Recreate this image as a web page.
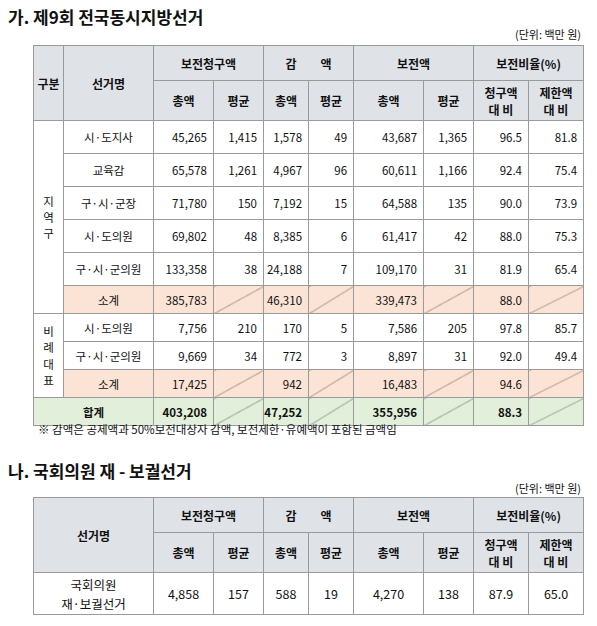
<!DOCTYPE html>
<html><head><meta charset="utf-8">
<script src="https://cdn.jsdelivr.net/npm/chart.js@4"></script>
<style>
body{margin:0;background:#fff;font-family:"Noto Sans CJK KR","Noto Sans",sans-serif;color:#111;width:597px;height:626px;overflow:hidden;position:relative}
h2{position:absolute;left:8px;margin:0;font-size:17px;font-weight:bold;font-family:"Noto Sans CJK KR"}
.unit{position:absolute;right:16px;font-size:11px}
table{position:absolute;left:33px;border-collapse:collapse;table-layout:fixed;width:550px;font-size:11.5px}
td,th{border:1px solid #9a9a9a;text-align:center;padding:0;overflow:hidden}
th{background:#dfe3e8;font-weight:bold;font-size:12px}
td.num{text-align:right;padding-right:6px}
td.name{text-align:center}
.sub td{background:#fbe4d5}
.tot td{background:#e2efda;font-weight:bold}
td.slash{background:#fbe4d5 linear-gradient(to bottom right,transparent calc(50% - 0.6px),#8a6a5a 50%,transparent calc(50% + 0.6px))!important}
.tot td.slash{background:#e2efda linear-gradient(to bottom right,transparent calc(50% - 0.6px),#6a7a6a 50%,transparent calc(50% + 0.6px))!important}
.note{position:absolute;left:38px;top:421px;font-size:11.5px}
</style></head><body>
<h2 style="top:4px">가. 제9회 전국동시지방선거</h2>
<div class="unit" style="top:26px">(단위: 백만 원)</div>
<table id="t1" style="top:45px"></table>
<div class="note">※ 감액은 공제액과 50%보전대상자 감액, 보전제한·유예액이 포함된 금액임</div>
<h2 style="top:458px">나. 국회의원 재 - 보궐선거</h2>
<div class="unit" style="top:480px">(단위: 백만 원)</div>
<table id="t2" style="top:497px"></table>
<script>
const groups = ["구분","선거명"];
const headTop = ["보전청구액","감　　액","보전액","보전비율(%)"];
const headSub = ["총액","평균","총액","평균","총액","평균","청구액<br>대 비","제한액<br>대 비"];
const names = ["시·도지사","교육감","구·시·군장","시·도의원","구·시·군의원","소계","시·도의원","구·시·군의원","소계","합계"];
const claimTotal = ["45,265","65,578","71,780","69,802","133,358","385,783","7,756","9,669","17,425","403,208"];
const claimAvg = ["1,415","1,261","150","48","38","","210","34","",""];
const cutTotal = ["1,578","4,967","7,192","8,385","24,188","46,310","170","772","942","47,252"];
const cutAvg = ["49","96","15","6","7","","5","3","",""];
const payTotal = ["43,687","60,611","64,588","61,417","109,170","339,473","7,586","8,897","16,483","355,956"];
const payAvg = ["1,365","1,166","135","42","31","","205","31","",""];
const ratioClaim = ["96.5","92.4","90.0","88.0","81.9","88.0","97.8","92.0","94.6","88.3"];
const ratioLimit = ["81.8","75.4","73.9","75.3","65.4","","85.7","49.4","",""];
const byName2 = ["국회의원<br>재·보궐선거"];
const row2 = ["4,858","157","588","19","4,270","138","87.9","65.0"];

const cols1 = [30,90,60,50,45,45,70,50,55,55];
function colgroup(ws){return "<colgroup>"+ws.map(w=>`<col style="width:${w}px">`).join("")+"</colgroup>";}
let h = colgroup(cols1);
h += `<tr style="height:35px"><th rowspan=2>${groups[0]}</th><th rowspan=2>${groups[1]}</th>`+headTop.map(t=>`<th colspan=2>${t}</th>`).join("")+"</tr>";
h += `<tr style="height:40px">`+headSub.map(t=>`<th>${t}</th>`).join("")+"</tr>";
const vals = i=>[claimTotal[i],claimAvg[i],cutTotal[i],cutAvg[i],payTotal[i],payAvg[i],ratioClaim[i],ratioLimit[i]];
names.forEach((n,i)=>{
  const cls = (i===5||i===8)?"sub":(i===9?"tot":"");
  let r = `<tr class="${cls}" style="height:${i<5?33:28}px">`;
  if(i===0) r+=`<td rowspan=6 style="line-height:1.4">지<br>역<br>구</td>`;
  if(i===6) r+=`<td rowspan=3 style="line-height:1.4">비<br>례<br>대<br>표</td>`;
  if(i===9) r+=`<td colspan=2>${n}</td>`; else r+=`<td class="name">${n}</td>`;
  vals(i).forEach((v,j)=>{
    const slash = (cls && v==="" );
    r+=`<td class="${slash?'slash':'num'}">${v}</td>`;
  });
  h += r+"</tr>";
});
document.getElementById("t1").innerHTML = h;

const cols2 = [120,60,50,45,45,70,50,55,55];
let h2 = colgroup(cols2);
h2 += `<tr style="height:35px"><th rowspan=2>선거명</th>`+headTop.map(t=>`<th colspan=2>${t}</th>`).join("")+"</tr>";
h2 += `<tr style="height:40px">`+headSub.map(t=>`<th>${t}</th>`).join("")+"</tr>";
h2 += `<tr style="height:42px"><td style="font-size:12.5px">${byName2[0]}</td>`+row2.map(v=>`<td style="font-size:12.5px">${v}</td>`).join("")+"</tr>";
document.getElementById("t2").innerHTML = h2;
</script>
</body></html>
